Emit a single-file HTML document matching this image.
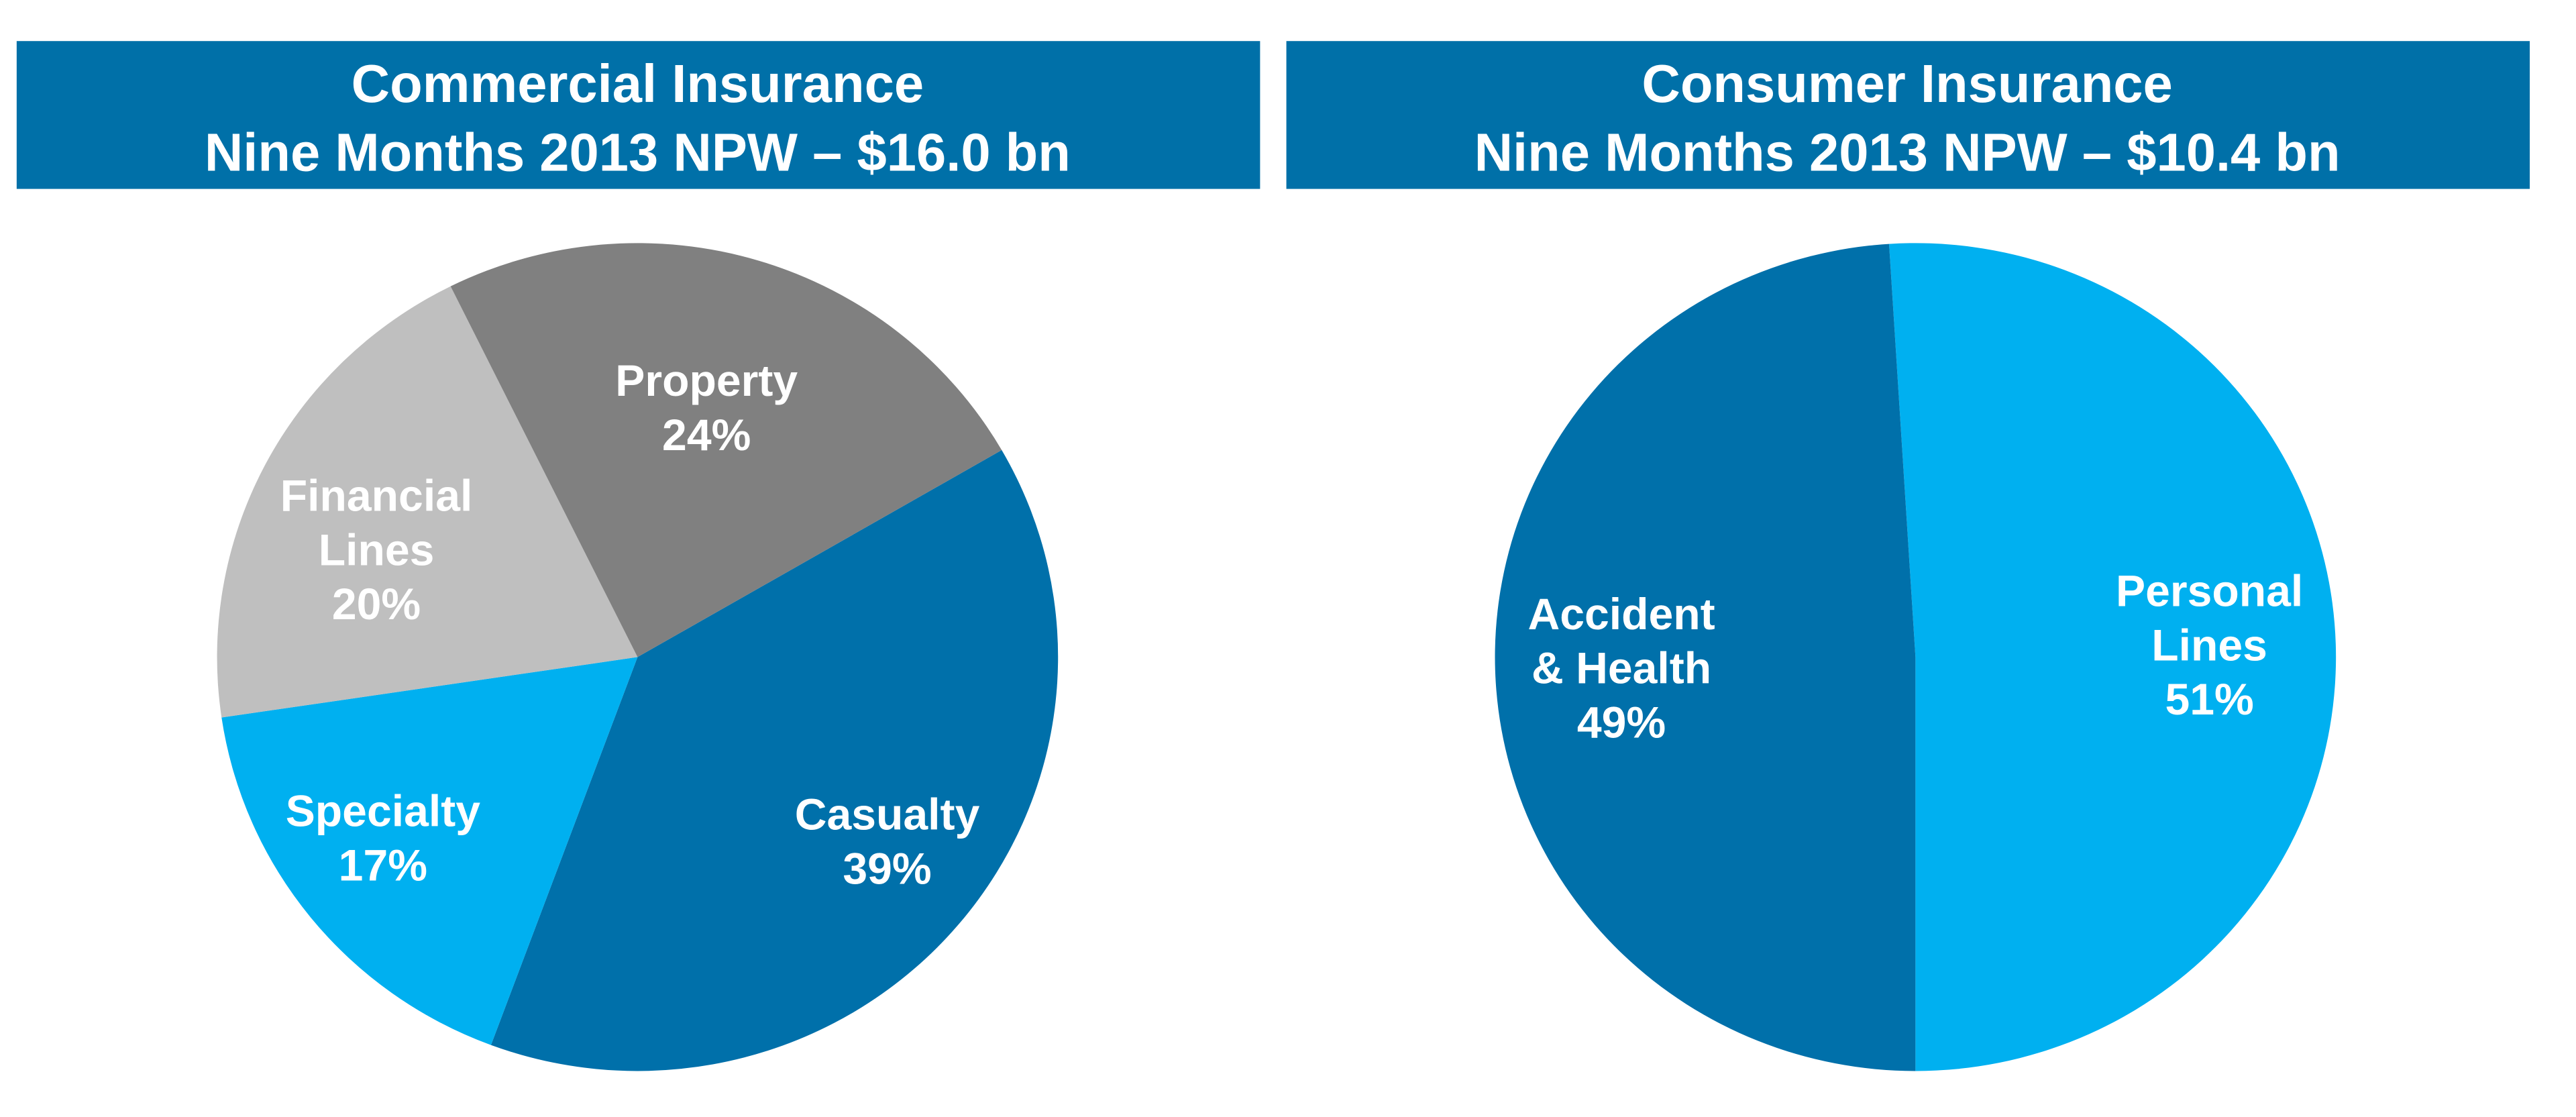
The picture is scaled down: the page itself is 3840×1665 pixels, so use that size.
<!DOCTYPE html>
<html><head><meta charset="utf-8">
<style>
html,body{margin:0;padding:0;background:#fff;}
svg{display:block;}
text{font-family:"Liberation Sans",Arial,sans-serif;font-weight:bold;fill:#fff;text-anchor:middle;}
</style></head>
<body>
<svg id="chart" width="3840" height="1665" viewBox="0 0 1568 680" xmlns="http://www.w3.org/2000/svg">
  <rect x="10" y="25" width="757" height="90" fill="#0070A8"/>
  <text x="388" y="62" font-size="32.5">Commercial Insurance</text>
  <text x="388" y="104" font-size="32.5">Nine Months 2013 NPW – $16.0 bn</text>
  <rect x="783" y="25" width="757" height="90" fill="#0070A8"/>
  <text x="1161" y="62" font-size="32.5">Consumer Insurance</text>
  <text x="1161" y="104" font-size="32.5">Nine Months 2013 NPW – $10.4 bn</text>
  <g id="pie1"></g>
  <g id="pie2"></g>
</svg>
<script>
const commCategories = ["Casualty", "Specialty", "Financial Lines", "Property"];
const commValues = [39, 17, 20, 24];
const commColors = ["#0070AA", "#00B0F0", "#BFBFBF", "#808080"];
const consCategories = ["Personal Lines", "Accident & Health"];
const consValues = [51, 49];
const consColors = ["#00B0F0", "#0070AA"];

const NS = "http://www.w3.org/2000/svg";
function pt(cx, cy, rx, ry, deg) {
  const a = deg * Math.PI / 180;
  return [cx + rx * Math.sin(a), cy - ry * Math.cos(a)];
}
function drawPie(g, cats, vals, colors, cx, cy, rx, ry, start, labels) {
  const total = vals.reduce((a, b) => a + b, 0);
  let ang = start;
  vals.forEach((v, i) => {
    const sweep = v / total * 360;
    const p0 = pt(cx, cy, rx, ry, ang), p1 = pt(cx, cy, rx, ry, ang + sweep);
    const path = document.createElementNS(NS, "path");
    path.setAttribute("d", `M${cx},${cy} L${p0[0]},${p0[1]} A${rx},${ry} 0 ${sweep > 180 ? 1 : 0} 1 ${p1[0]},${p1[1]} Z`);
    path.setAttribute("fill", colors[i]);
    
    
    g.appendChild(path);
    ang += sweep;
  });
  vals.forEach((v, i) => {
    const L = labels[i];
    const lines = L.lines.concat([v + "%"]);
    lines.forEach((s, j) => {
      const t = document.createElementNS(NS, "text");
      t.setAttribute("x", L.x);
      t.setAttribute("y", L.y + j * 33);
      t.setAttribute("font-size", "27");
      t.textContent = s;
      
      
      g.appendChild(t);
    });
  });
}
drawPie(document.getElementById("pie1"), commCategories, commValues, commColors, 388, 400, 256, 252, 60, [
  {x: 540, y: 505, lines: ["Casualty"]},
  {x: 233, y: 503, lines: ["Specialty"]},
  {x: 229, y: 311, lines: ["Financial", "Lines"]},
  {x: 430, y: 241, lines: ["Property"]}
]);
drawPie(document.getElementById("pie2"), consCategories, consValues, consColors, 1166, 400, 256, 252, -3.6, [
  {x: 1345, y: 369, lines: ["Personal", "Lines"]},
  {x: 987, y: 383, lines: ["Accident", "& Health"]}
]);
</script>
</body></html>
